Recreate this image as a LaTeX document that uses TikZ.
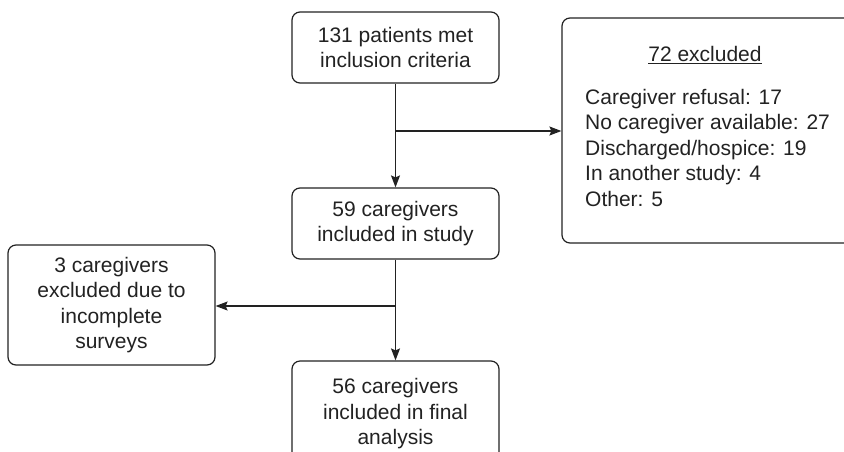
\documentclass[tikz,border=0pt]{standalone}
\usepackage{fontspec}
\setmainfont{Liberation Sans}
\usetikzlibrary{arrows.meta}
\definecolor{ink}{HTML}{222222}
\begin{document}
\begin{tikzpicture}[x=1pt,y=-1pt,
  box/.style={draw=ink, line width=1.2pt, rounded corners=8pt, align=center,
    font=\fontsize{21}{25.5}\selectfont, text=ink, inner sep=0pt, minimum width=207pt},
  txt/.style={font=\fontsize{21}{25.5}\selectfont, text=ink, inner sep=0pt},
  arr/.style={draw=ink, line width=1.2pt, -{Stealth[length=12pt,width=9pt,inset=2pt]}}]
\clip (0,0) rectangle (844,451);
\fill[white] (0,0) rectangle (844,451);
\node[box, minimum height=71pt] (incl) at (395.5,47.5) {131 patients met\\inclusion criteria};
\node[box, minimum height=71pt] (study) at (395.5,223.5) {59 caregivers\\included in study};
\node[box, minimum height=120pt] (incomp) at (111.5,305) {3 caregivers\\excluded due to\\incomplete\\surveys};
\node[box, minimum height=106pt] (final) at (395.5,414) {56 caregivers\\included in final\\analysis};
\node[box, minimum width=340pt, minimum height=225pt] (excl) at (732,130.5) {};
\node[txt] (exttl) at (705,55) {\underline{72 excluded}};
\node[txt, anchor=north west, align=left] (exlist) at (585,89) {Caregiver refusal: 17\\No caregiver available: 27\\Discharged/hospice: 19\\In another study: 4\\Other: 5};
\coordinate (j1) at (395.5,131);
\coordinate (j2) at (395.5,306);
\draw[arr] (incl) -- (study);
\draw[arr] (j1) -- (j1 -| excl.west);
\draw[arr] (study) -- (final);
\draw[arr] (j2) -- (j2 -| incomp.east);
\end{tikzpicture}
\end{document}
